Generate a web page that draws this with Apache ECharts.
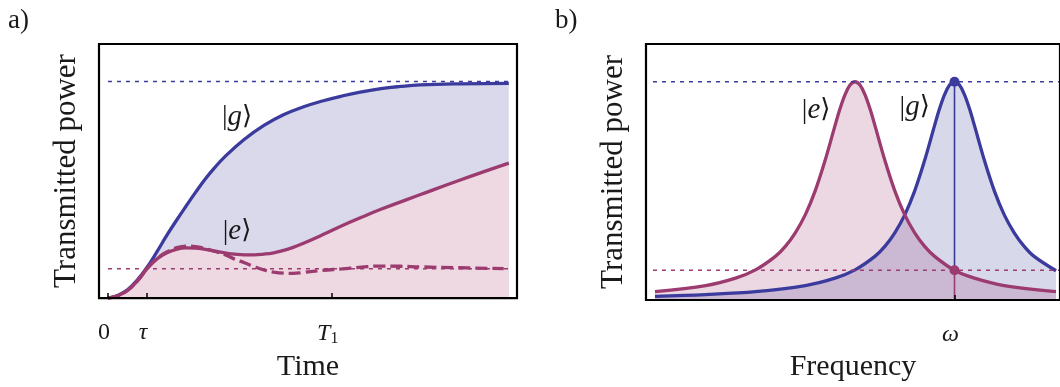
<!DOCTYPE html>
<html><head><meta charset="utf-8">
<script src="https://cdn.jsdelivr.net/npm/echarts@6/dist/echarts.min.js"></script>
<style>html,body{margin:0;padding:0;background:#fff}#c{width:1060px;height:387px}</style>
</head><body><div id="c"></div>
<script>
// ---------- Panel a: time (units of tau) vs transmitted power (units of steady |g> level)
const timeG = [[0,0],[0.25,0.012],[0.5,0.038],[0.75,0.083],[1.0,0.141],[1.25,0.212],[1.5,0.287],[1.75,0.357],[2.0,0.424],[2.25,0.489],[2.5,0.551],[2.75,0.605],[3.0,0.653],[3.5,0.733],[4.0,0.797],[4.5,0.846],[5.0,0.882],[5.5,0.91],[6.0,0.933],[6.5,0.952],[7.0,0.967],[7.5,0.977],[8.0,0.984],[9.0,0.989],[10.28,0.991]];
const timeE = [[0,0],[0.25,0.011],[0.5,0.035],[0.75,0.078],[1.0,0.135],[1.25,0.18],[1.5,0.208],[1.75,0.225],[2.0,0.232],[2.25,0.231],[2.5,0.225],[2.75,0.217],[3.0,0.209],[3.25,0.203],[3.5,0.2],[3.75,0.2],[4.0,0.203],[4.25,0.209],[4.5,0.22],[4.75,0.234],[5.0,0.252],[5.5,0.292],[6.0,0.334],[6.5,0.373],[7.0,0.41],[8.0,0.477],[9.0,0.543],[10.28,0.623]];
const timeEDashed = [[0,0],[0.25,0.011],[0.5,0.035],[0.75,0.078],[1.0,0.135],[1.25,0.182],[1.5,0.212],[1.75,0.232],[2.0,0.24],[2.25,0.238],[2.5,0.228],[2.75,0.215],[3.0,0.2],[3.25,0.18],[3.5,0.163],[3.75,0.145],[4.0,0.13],[4.25,0.12],[4.5,0.115],[4.75,0.114],[5.0,0.118],[5.5,0.128],[6.0,0.135],[6.5,0.143],[7.0,0.148],[7.5,0.147],[8.0,0.144],[9.0,0.14],[10.15,0.136]];
const timeLevelG = [[0,1],[10.28,1]];
const timeLevelE = [[0,0.136],[10.28,0.136]];
const timeTicks = [0, 1, 5.74];
const timeTickLabels = ['0', '{i|τ}', '{i|T}{s|1}'];
const timeKets = [{value:[3.31,0.836], name:'g'}, {value:[3.31,0.309], name:'e'}];

// ---------- Panel b: frequency (offset from omega) vs transmitted power
const freqE = [[-3.01,0.038],[-2.5,0.066],[-2.2,0.1],[-2.0,0.138],[-1.8,0.2],[-1.7,0.246],[-1.6,0.308],[-1.5,0.39],[-1.4,0.5],[-1.3,0.64],[-1.2,0.8],[-1.15,0.877],[-1.1,0.941],[-1.05,0.985],[-1.0,1.0],[-0.95,0.985],[-0.9,0.941],[-0.85,0.877],[-0.8,0.8],[-0.7,0.64],[-0.6,0.5],[-0.5,0.39],[-0.4,0.308],[-0.3,0.246],[-0.2,0.2],[0,0.136],[0.2,0.1],[0.5,0.066],[1.02,0.038]];
const freqG = [[-3.01,0.017],[-2.5,0.025],[-2.0,0.038],[-1.5,0.066],[-1.2,0.1],[-1.0,0.138],[-0.8,0.2],[-0.7,0.246],[-0.6,0.308],[-0.5,0.39],[-0.4,0.5],[-0.3,0.64],[-0.2,0.8],[-0.15,0.877],[-0.1,0.941],[-0.05,0.985],[0,1.0],[0.05,0.985],[0.1,0.941],[0.15,0.877],[0.2,0.8],[0.3,0.64],[0.4,0.5],[0.5,0.39],[0.6,0.308],[0.7,0.246],[0.8,0.2],[1.02,0.134]];
const freqLevelG = [[-3.03,1],[1.06,1]];
const freqLevelE = [[-3.03,0.136],[1.06,0.136]];
const freqMarkerUpper = [[0,0.136],[0,1]];
const freqMarkerLower = [[0,0],[0,0.136]];
const freqDotG = [[0,1]];
const freqDotE = [[0,0.136]];
const freqTicks = [0];
const freqTickLabels = ['{i|ω}'];
const freqKets = [{value:[-1.39,0.868], name:'e'}, {value:[-0.40,0.882], name:'g'}];

const BLUE = '#3b3a9d', PINK = '#9b3b6f', TXT = '#1a1a1a';
const SERIF = '"Liberation Serif","DejaVu Serif",serif';

const rich = {
  i:{fontFamily:SERIF, fontStyle:'italic', fontSize:24, color:TXT},
  s:{fontFamily:SERIF, fontSize:16, color:TXT, padding:[10,0,0,0]}
};
const ketRich = {
  n:{fontFamily:SERIF, fontSize:28, color:TXT},
  k:{fontFamily:'"DejaVu Serif",serif', fontSize:26, color:TXT},
  i:{fontFamily:SERIF, fontStyle:'italic', fontSize:29, color:TXT}
};
function ketFmt(p){ return '{n||}{i|' + p.name + '}{k|⟩}'; }

function xAx(idx, min, max, ticks, labels, name){
  return {
    gridIndex:idx, type:'value', min:min, max:max, z:9,
    axisLine:{show:false}, splitLine:{show:false},
    axisTick:{show:true, inside:true, length:5, lineStyle:{color:'#000', width:1.5}, customValues:ticks},
    axisLabel:{show:true, customValues:ticks, margin:23, fontFamily:SERIF, fontSize:24, color:TXT, rich:rich, padding:[0,8,0,0],
      formatter:function(v){ const k = ticks.indexOf(v); return k>=0 ? labels[k] : ''; }},
    name:name, nameLocation:'middle', nameGap:52,
    nameTextStyle:{fontFamily:SERIF, fontSize:30, color:TXT}
  };
}
function yAx(idx){
  return {
    gridIndex:idx, type:'value', min:0, max:1.173,
    axisLine:{show:false}, axisTick:{show:false}, axisLabel:{show:false}, splitLine:{show:false},
    name:'Transmitted power', nameLocation:'middle', nameGap:17, nameRotate:90,
    nameTextStyle:{fontFamily:SERIF, fontSize:31, color:TXT}
  };
}
function line(xi, data, color, width, extra){
  return Object.assign({type:'line', xAxisIndex:xi, yAxisIndex:xi, data:data, symbol:'none', silent:true,
    lineStyle:{color:color, width:width}, itemStyle:{color:color}}, extra||{});
}
function kets(xi, data){
  return {type:'scatter', xAxisIndex:xi, yAxisIndex:xi, data:data, symbolSize:0, z:10, silent:true,
    itemStyle:{opacity:1},
    label:{show:true, position:'inside', color:TXT, opacity:1, textBorderWidth:0, formatter:ketFmt, rich:ketRich}};
}
function dot(data, color){
  return {type:'scatter', xAxisIndex:1, yAxisIndex:1, data:data, symbolSize:10, itemStyle:{color:color, opacity:1}, z:6, silent:true};
}

const chart = echarts.init(document.getElementById('c'), null, {renderer:'canvas'});
chart.setOption({
  animation:false,
  backgroundColor:'#fff',
  grid:[
    {left:99, top:44, width:418, height:258, show:true, borderColor:'#000', borderWidth:2.2, z:8},
    {left:646, top:44, width:416, height:258, show:true, borderColor:'#000', borderWidth:2.2, z:8}
  ],
  xAxis:[
    xAx(0, -0.23, 10.49, timeTicks, timeTickLabels, 'Time'),
    xAx(1, -3.10, 1.06, freqTicks, freqTickLabels, 'Frequency')
  ],
  yAxis:[yAx(0), yAx(1)],
  graphic:[
    {type:'text', left:8, top:7, style:{text:'a)', font:'27px '+SERIF, fill:TXT}},
    {type:'text', left:555, top:7, style:{text:'b)', font:'27px '+SERIF, fill:TXT}}
  ],
  series:[
    // panel a
    line(0, timeG, BLUE, 3.3, {smooth:0.45, z:2, areaStyle:{color:'#d9d9eb', opacity:1}}),
    line(0, timeE, PINK, 3.3, {smooth:0.45, z:3, areaStyle:{color:'#eed8e2', opacity:1}}),
    line(0, timeLevelG, BLUE, 1.5, {z:4, lineStyle:{color:BLUE, width:1.5, type:[4,5]}}),
    line(0, timeLevelE, PINK, 1.5, {z:4, lineStyle:{color:PINK, width:1.5, type:[4,5]}}),
    line(0, timeEDashed, PINK, 3.3, {smooth:0.45, z:5, lineStyle:{color:PINK, width:3.3, type:[12,5]}}),
    kets(0, timeKets),
    // panel b
    line(1, freqG, BLUE, 3.3, {smooth:0.35, z:3, areaStyle:{color:'rgba(59,58,157,0.2)', opacity:1}}),
    line(1, freqE, PINK, 3.3, {smooth:0.35, z:3, areaStyle:{color:'rgba(155,59,111,0.2)', opacity:1}}),
    line(1, freqLevelG, BLUE, 1.5, {z:4, lineStyle:{color:BLUE, width:1.5, type:[4,5]}}),
    line(1, freqLevelE, PINK, 1.5, {z:4, lineStyle:{color:PINK, width:1.5, type:[4,5]}}),
    line(1, freqMarkerUpper, BLUE, 1.6, {z:5}),
    line(1, freqMarkerLower, PINK, 1.6, {z:5}),
    dot(freqDotG, BLUE),
    dot(freqDotE, PINK),
    kets(1, freqKets)
  ]
});
</script></body></html>
